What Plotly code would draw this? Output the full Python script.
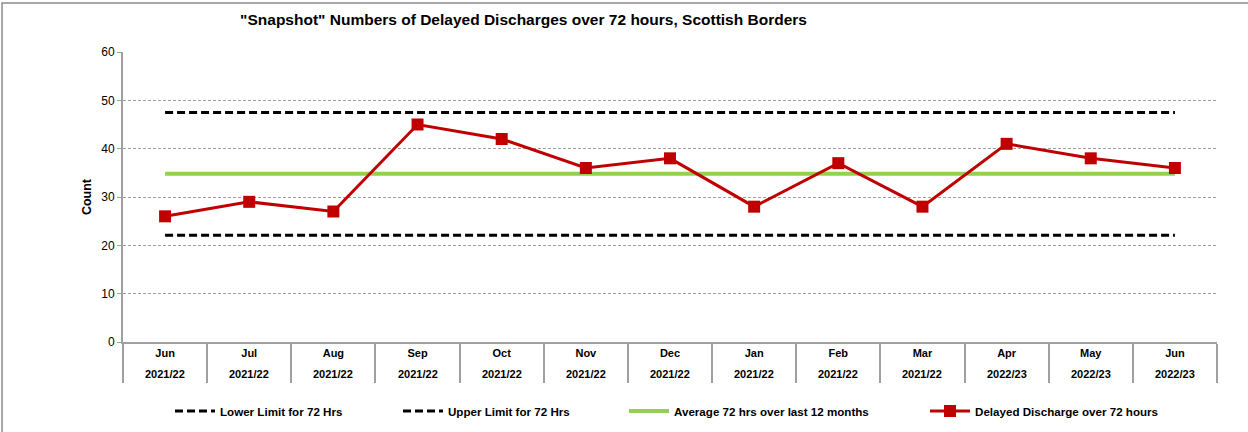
import plotly.graph_objects as go

months = ["Jun", "Jul", "Aug", "Sep", "Oct", "Nov", "Dec", "Jan", "Feb", "Mar", "Apr", "May", "Jun"]
years = ["2021/22"] * 10 + ["2022/23"] * 3
delayed = [26, 29, 27, 45, 42, 36, 38, 28, 37, 28, 41, 38, 36]
lower_limit = [22.1] * 13
upper_limit = [47.5] * 13
average = [34.8] * 13

cats = [f"{m} {y}" for m, y in zip(months, years)]

RED = "#C00000"
GREEN = "#92D050"
GREY = "#A0A0A0"
FONT = "Liberation Sans, Arial, sans-serif"
LEG_FONT = dict(family=FONT, size=11.6, color="black")

fig = go.Figure()
fig.add_trace(go.Scatter(x=cats, y=lower_limit, mode="lines", name="<b>Lower Limit for 72 Hrs</b>",
                         line=dict(color="black", width=3, dash="8px,4px"), legend="legend"))
fig.add_trace(go.Scatter(x=cats, y=upper_limit, mode="lines", name="<b>Upper Limit for 72 Hrs</b>",
                         line=dict(color="black", width=3, dash="8px,4px"), legend="legend2"))
fig.add_trace(go.Scatter(x=cats, y=average, mode="lines", name="<b>Average 72 hrs over last 12 months</b>",
                         line=dict(color=GREEN, width=4), legend="legend3"))
fig.add_trace(go.Scatter(x=cats, y=delayed, mode="lines+markers", name="<b>Delayed Discharge over 72 hours</b>",
                         line=dict(color=RED, width=3),
                         marker=dict(symbol="square", size=12, color=RED), legend="legend4"))

annotations = []
for c, yv in zip(cats, years):
    annotations.append(dict(x=c, y=-0.110, xref="x", yref="paper", text=f"<b>{yv}</b>",
                            showarrow=False, font=dict(family=FONT, size=11, color="black"),
                            xanchor="center", yanchor="middle"))


def leg(xpos):
    return dict(orientation="h", x=xpos, xanchor="left", y=0.0486, yanchor="middle",
                xref="container", yref="container",
                font=LEG_FONT, bgcolor="rgba(0,0,0,0)", itemwidth=40)


fig.update_layout(
    width=1248, height=432,
    margin=dict(l=123, r=31, t=52, b=90),
    paper_bgcolor="white", plot_bgcolor="white",
    font=dict(family=FONT, color="black"),
    title=dict(text='<b>"Snapshot" Numbers of Delayed Discharges over 72 hours, Scottish Borders</b>',
               x=0.4195, xanchor="center", y=0.954, yanchor="middle",
               font=dict(family=FONT, size=15.5, color="black")),
    showlegend=True,
    legend=leg(0.1362),
    legend2=leg(0.3189),
    legend3=leg(0.5),
    legend4=leg(0.7412),
    annotations=annotations,
    shapes=[dict(type="rect", xref="paper", yref="paper", x0=-0.1106, x1=1.2, y0=-0.5, y1=1.169,
                 line=dict(color="#8C8C8C", width=1.5), fillcolor="rgba(0,0,0,0)", layer="below")],
)

fig.update_xaxes(
    type="category",
    tickmode="array", tickvals=cats, ticktext=[f"<b>{m}</b>" for m in months],
    tickfont=dict(family=FONT, size=11, color="black"),
    tickson="boundaries", ticks="outside", ticklen=39, tickcolor=GREY, tickwidth=1.5,
    showgrid=False, showline=True, linecolor=GREY, linewidth=1.5,
    range=[-0.5, 12.5], zeroline=False,
)
fig.update_yaxes(
    range=[0, 60], dtick=10,
    title=dict(text="<b>Count</b>", font=dict(family=FONT, size=12.5, color="black"), standoff=7),
    tickfont=dict(family=FONT, size=12, color="black"),
    ticks="outside", ticklen=4, tickcolor=GREY,
    showgrid=True, gridcolor=GREY, griddash="3px,2px", gridwidth=1,
    showline=True, linecolor=GREY, linewidth=2, zeroline=False,
)

fig.write_html("out.html", config={"displayModeBar": False},
               post_script="document.body.style.margin='0';document.body.style.overflow='hidden';")
